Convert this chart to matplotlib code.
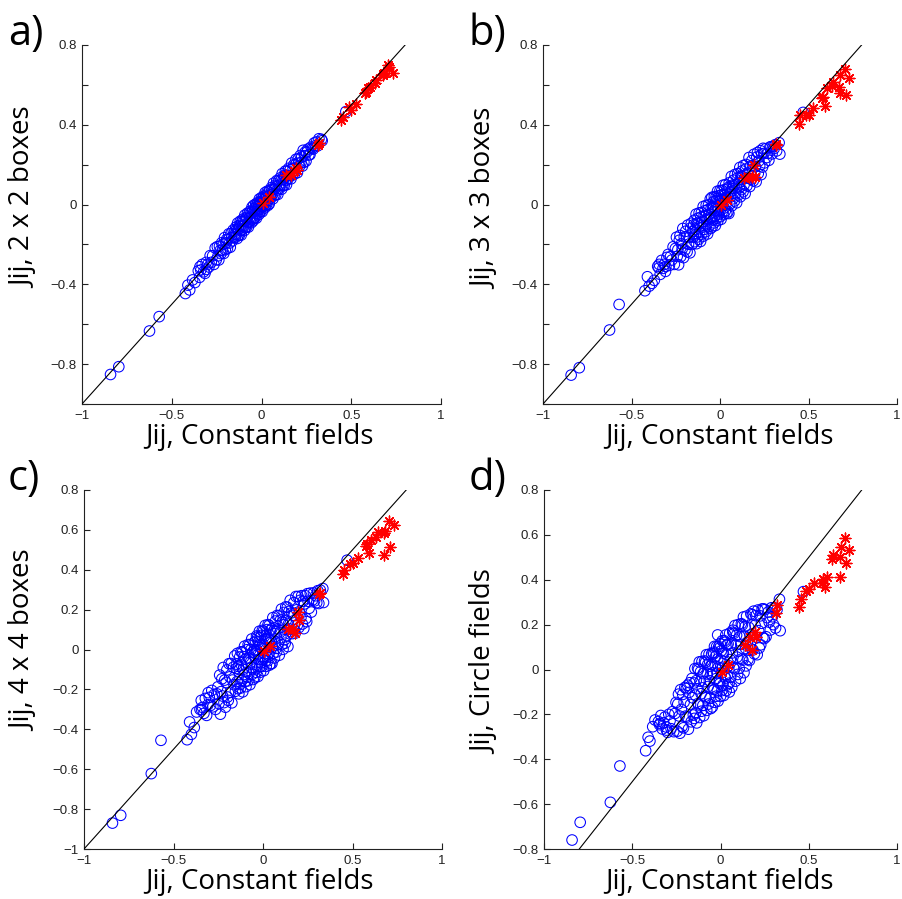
import numpy as np
import matplotlib
matplotlib.use("Agg")
import matplotlib.pyplot as plt
from matplotlib.ticker import FixedLocator, FixedFormatter

W, H = 902, 899

# ---- couplings shown as blue circles ----
# columns: J_const, J_2x2, J_3x3, J_4x4, J_circle
blue_rows = [
    # isolated strong couplings
    (-0.841, -0.852, -0.855, -0.870, -0.760),
    (-0.795, -0.813, -0.818, -0.831, -0.681),
    (-0.624, -0.634, -0.629, -0.622, -0.592),
    (-0.570, -0.562, -0.501, -0.455, -0.430),
    (-0.424, -0.446, -0.432, -0.452, -0.362),
    (-0.410, -0.404, -0.362, -0.363, -0.302),
    (-0.400, -0.428, -0.409, -0.425, -0.319),
    (-0.384, -0.378, -0.395, -0.391, -0.255),
    (-0.371, -0.391, -0.380, -0.313, -0.225),
    (-0.343, -0.312, -0.300, -0.301, -0.240),
    (-0.306, -0.325, -0.310, -0.216, -0.270),
    (0.334, 0.327, 0.310, 0.306, 0.313),
    (0.338, 0.320, 0.253, 0.236, 0.173),
    (0.470, 0.466, 0.462, 0.448, 0.347),
    (0.050, 0.040, -0.045, -0.070, -0.100),
    (-0.016, -0.010, 0.030, 0.060, 0.154),
    (0.070, 0.075, 0.080, 0.090, 0.175),
    # bulk of the couplings
    (-0.352, -0.332, -0.310, -0.300, -0.232),
    (-0.345, -0.365, -0.318, -0.255, -0.246),
    (-0.338, -0.328, -0.350, -0.290, -0.205),
    (-0.330, -0.300, -0.280, -0.320, -0.265),
    (-0.322, -0.337, -0.320, -0.245, -0.238),
    (-0.315, -0.345, -0.300, -0.330, -0.212),
    (-0.308, -0.290, -0.335, -0.277, -0.256),
    (-0.300, -0.300, -0.265, -0.240, -0.280),
    (-0.293, -0.313, -0.250, -0.280, -0.200),
    (-0.286, -0.256, -0.305, -0.205, -0.229),
    (-0.280, -0.290, -0.261, -0.287, -0.264),
    (-0.272, -0.257, -0.278, -0.225, -0.188),
    (-0.265, -0.300, -0.212, -0.300, -0.277),
    (-0.258, -0.218, -0.300, -0.222, -0.196),
    (-0.252, -0.277, -0.220, -0.187, -0.147),
    (-0.246, -0.211, -0.164, -0.271, -0.275),
    (-0.242, -0.257, -0.260, -0.128, -0.154),
    (-0.238, -0.278, -0.226, -0.324, -0.110),
    (-0.234, -0.209, -0.302, -0.211, -0.207),
    (-0.230, -0.230, -0.179, -0.147, -0.284),
    (-0.226, -0.246, -0.155, -0.233, -0.090),
    (-0.222, -0.192, -0.261, -0.090, -0.178),
    (-0.218, -0.228, -0.197, -0.266, -0.254),
    (-0.214, -0.199, -0.223, -0.153, -0.111),
    (-0.210, -0.245, -0.120, -0.289, -0.260),
    (-0.206, -0.166, -0.266, -0.165, -0.145),
    (-0.202, -0.227, -0.162, -0.102, -0.080),
    (-0.198, -0.193, -0.228, -0.238, -0.208),
    (-0.194, -0.174, -0.134, -0.255, -0.085),
    (-0.190, -0.220, -0.161, -0.071, -0.212),
    (-0.186, -0.176, -0.237, -0.137, -0.070),
    (-0.182, -0.147, -0.103, -0.214, -0.266),
    (-0.178, -0.193, -0.199, -0.070, -0.102),
    (-0.174, -0.214, -0.165, -0.267, -0.059),
    (-0.170, -0.145, -0.242, -0.153, -0.156),
    (-0.166, -0.166, -0.118, -0.089, -0.233),
    (-0.162, -0.182, -0.094, -0.176, -0.040),
    (-0.158, -0.128, -0.200, -0.032, -0.126),
    (-0.154, -0.164, -0.136, -0.209, -0.203),
    (-0.150, -0.135, -0.163, -0.095, -0.060),
    (-0.148, -0.148, -0.101, -0.073, -0.218),
    (-0.145, -0.165, -0.078, -0.161, 0.004),
    (-0.143, -0.113, -0.186, -0.019, -0.114),
    (-0.140, -0.150, -0.123, -0.196, -0.192),
    (-0.138, -0.123, -0.151, -0.084, -0.050),
    (-0.135, -0.170, -0.048, -0.222, -0.238),
    (-0.133, -0.093, -0.196, -0.100, -0.086),
    (-0.130, -0.155, -0.094, -0.037, 0.006),
    (-0.128, -0.123, -0.162, -0.175, -0.152),
    (-0.125, -0.105, -0.069, -0.193, 0.000),
    (-0.123, -0.153, -0.097, -0.011, -0.158),
    (-0.120, -0.110, -0.174, -0.078, 0.034),
    (-0.118, -0.083, -0.042, -0.156, -0.214),
    (-0.115, -0.130, -0.139, -0.014, -0.052),
    (-0.113, -0.153, -0.107, -0.212, -0.010),
    (-0.110, -0.085, -0.185, -0.099, -0.108),
    (-0.108, -0.108, -0.063, -0.037, -0.186),
    (-0.105, -0.125, -0.040, -0.125, 0.036),
    (-0.103, -0.073, -0.148, 0.017, -0.082),
    (-0.100, -0.110, -0.085, -0.160, -0.160),
    (-0.098, -0.083, -0.113, -0.048, -0.018),
    (-0.095, -0.130, -0.010, -0.186, -0.206),
    (-0.093, -0.053, -0.158, -0.064, -0.054),
    (-0.090, -0.115, -0.056, -0.001, 0.038),
    (-0.088, -0.083, -0.124, -0.139, -0.120),
    (-0.085, -0.065, -0.031, -0.157, 0.032),
    (-0.083, -0.113, -0.059, 0.025, -0.126),
    (-0.080, -0.070, -0.136, -0.042, 0.066),
    (-0.078, -0.043, -0.004, -0.120, -0.182),
    (-0.075, -0.090, -0.101, 0.023, -0.020),
    (-0.073, -0.113, -0.069, -0.176, 0.022),
    (-0.070, -0.045, -0.147, -0.063, -0.076),
    (-0.068, -0.068, -0.025, -0.001, -0.154),
    (-0.065, -0.085, -0.002, -0.089, 0.068),
    (-0.063, -0.033, -0.110, 0.053, -0.050),
    (-0.060, -0.070, -0.047, -0.124, -0.128),
    (-0.058, -0.043, -0.075, -0.012, 0.014),
    (-0.055, -0.090, 0.028, -0.150, -0.174),
    (-0.053, -0.013, -0.120, -0.028, -0.022),
    (-0.050, -0.075, -0.018, 0.035, 0.070),
    (-0.048, -0.033, -0.066, -0.003, 0.022),
    (-0.046, -0.081, 0.036, -0.141, -0.167),
    (-0.044, -0.004, -0.112, -0.020, -0.015),
    (-0.042, -0.067, -0.010, 0.042, 0.076),
    (-0.040, -0.035, -0.078, -0.096, -0.082),
    (-0.038, -0.018, 0.014, -0.114, 0.070),
    (-0.036, -0.066, -0.014, 0.068, -0.089),
    (-0.034, -0.024, -0.092, -0.001, 0.103),
    (-0.032, 0.003, 0.040, -0.079, -0.146),
    (-0.030, -0.045, -0.059, 0.063, 0.016),
    (-0.028, -0.068, -0.027, -0.135, 0.058),
    (-0.026, -0.001, -0.105, -0.023, -0.041),
    (-0.024, -0.024, 0.017, 0.038, -0.119),
    (-0.022, -0.042, 0.039, -0.050, 0.102),
    (-0.020, 0.010, -0.069, 0.092, -0.016),
    (-0.018, -0.028, -0.007, -0.086, -0.094),
    (-0.016, -0.001, -0.035, 0.026, 0.047),
    (-0.014, -0.049, 0.067, -0.113, -0.141),
    (-0.012, 0.028, -0.081, 0.009, 0.010),
    (-0.010, -0.035, 0.021, 0.071, 0.102),
    (-0.008, -0.003, -0.048, -0.067, -0.056),
    (-0.006, 0.014, 0.044, -0.085, 0.095),
    (-0.004, -0.034, 0.016, 0.096, -0.063),
    (-0.002, 0.008, -0.062, 0.028, 0.115),
    (0.000, 0.035, 0.070, -0.050, -0.120),
    (0.002, -0.013, -0.028, 0.092, 0.042),
    (0.004, -0.036, 0.004, -0.106, 0.083),
    (0.006, 0.031, -0.074, 0.005, -0.015),
    (0.008, 0.008, 0.048, 0.067, -0.094),
    (0.010, -0.010, 0.070, -0.021, 0.128),
    (0.012, 0.042, -0.039, 0.121, 0.010),
    (0.014, 0.004, 0.023, -0.057, -0.069),
    (0.016, 0.031, -0.005, 0.054, 0.073),
    (0.018, -0.017, 0.097, -0.084, -0.116),
    (0.020, 0.060, -0.051, 0.038, 0.036),
    (0.022, -0.003, 0.051, 0.100, 0.128),
    (0.024, 0.029, -0.017, -0.038, -0.031),
    (0.026, 0.046, 0.075, -0.057, 0.121),
    (0.028, -0.002, 0.047, 0.125, -0.038),
    (0.030, 0.040, -0.032, 0.057, 0.154),
    (0.032, 0.067, 0.100, -0.021, -0.094),
    (0.034, 0.019, 0.002, 0.121, 0.067),
    (0.036, -0.004, 0.034, -0.078, 0.109),
    (0.038, 0.063, -0.044, 0.034, 0.010),
    (0.040, 0.040, 0.078, 0.096, -0.068),
    (0.043, 0.003, 0.041, -0.071, 0.114),
    (0.046, 0.071, -0.036, 0.041, 0.017),
    (0.049, 0.049, 0.087, 0.104, -0.061),
    (0.052, 0.032, 0.109, 0.017, 0.162),
    (0.055, 0.085, 0.002, 0.160, 0.044),
    (0.058, 0.048, 0.065, -0.018, -0.034),
    (0.061, 0.076, 0.038, 0.095, 0.109),
    (0.064, 0.029, 0.141, -0.042, -0.079),
    (0.067, 0.107, -0.006, 0.080, 0.074),
    (0.070, 0.045, 0.097, 0.143, 0.166),
    (0.073, 0.078, 0.029, 0.006, 0.008),
    (0.076, 0.096, 0.122, -0.012, 0.161),
    (0.079, 0.049, 0.095, 0.171, 0.003),
    (0.082, 0.092, 0.018, 0.104, 0.196),
    (0.085, 0.120, 0.151, 0.027, -0.052),
    (0.088, 0.073, 0.054, 0.169, 0.110),
    (0.091, 0.051, 0.086, -0.028, 0.153),
    (0.094, 0.119, 0.009, 0.085, 0.055),
    (0.097, 0.097, 0.132, 0.147, -0.022),
    (0.100, 0.080, 0.155, 0.060, 0.200),
    (0.103, 0.133, 0.048, 0.203, 0.082),
    (0.106, 0.096, 0.111, 0.025, 0.005),
    (0.109, 0.124, 0.084, 0.138, 0.147),
    (0.112, 0.077, 0.186, 0.001, -0.040),
    (0.115, 0.155, 0.039, 0.124, 0.112),
    (0.118, 0.093, 0.142, 0.186, 0.204),
    (0.121, 0.126, 0.075, 0.049, 0.047),
    (0.124, 0.144, 0.168, 0.032, 0.199),
    (0.127, 0.097, 0.141, 0.214, 0.042),
    (0.130, 0.140, 0.064, 0.147, 0.234),
    (0.133, 0.168, 0.196, 0.070, -0.014),
    (0.136, 0.121, 0.099, 0.212, 0.149),
    (0.139, 0.099, 0.132, 0.015, 0.191),
    (0.142, 0.167, 0.055, 0.128, 0.094),
    (0.145, 0.145, 0.178, 0.191, 0.016),
    (0.148, 0.128, 0.201, 0.103, 0.238),
    (0.152, 0.182, 0.094, 0.247, 0.122),
    (0.156, 0.146, 0.158, 0.090, 0.045),
    (0.160, 0.175, 0.132, 0.184, 0.188),
    (0.164, 0.129, 0.236, 0.080, 0.040),
    (0.168, 0.208, 0.090, 0.171, 0.154),
    (0.172, 0.147, 0.193, 0.235, 0.248),
    (0.176, 0.181, 0.127, 0.098, 0.091),
    (0.180, 0.200, 0.221, 0.082, 0.244),
    (0.184, 0.154, 0.195, 0.266, 0.087),
    (0.188, 0.198, 0.119, 0.199, 0.260),
    (0.192, 0.227, 0.252, 0.123, 0.070),
    (0.196, 0.181, 0.156, 0.266, 0.197),
    (0.200, 0.160, 0.190, 0.110, 0.240),
    (0.204, 0.229, 0.114, 0.184, 0.143),
    (0.208, 0.208, 0.238, 0.247, 0.066),
    (0.212, 0.192, 0.261, 0.161, 0.265),
    (0.216, 0.246, 0.155, 0.270, 0.173),
    (0.220, 0.210, 0.219, 0.128, 0.096),
    (0.224, 0.239, 0.193, 0.242, 0.239),
    (0.228, 0.193, 0.270, 0.105, 0.110),
    (0.232, 0.272, 0.150, 0.229, 0.206),
    (0.236, 0.211, 0.254, 0.270, 0.270),
    (0.240, 0.245, 0.188, 0.156, 0.142),
    (0.244, 0.264, 0.282, 0.140, 0.270),
    (0.248, 0.218, 0.256, 0.280, 0.138),
    (0.252, 0.262, 0.209, 0.242, 0.267),
    (0.258, 0.278, 0.280, 0.207, 0.146),
    (0.264, 0.249, 0.236, 0.283, 0.231),
    (0.270, 0.250, 0.257, 0.188, 0.256),
    (0.276, 0.288, 0.222, 0.248, 0.211),
    (0.282, 0.282, 0.288, 0.284, 0.176),
    (0.288, 0.278, 0.290, 0.244, 0.275),
    (0.294, 0.309, 0.254, 0.270, 0.235),
    (0.300, 0.295, 0.290, 0.235, 0.200),
    (0.306, 0.314, 0.281, 0.295, 0.275),
    (0.312, 0.294, 0.300, 0.231, 0.185),
    (0.320, 0.330, 0.269, 0.298, 0.266),
]

# ---- couplings shown as red asterisks ----
red_rows = [
    (0.705, 0.700, 0.678, 0.644, 0.585),
    (0.730, 0.661, 0.633, 0.624, 0.533),
    (0.680, 0.660, 0.649, 0.595, 0.548),
    (0.640, 0.624, 0.616, 0.590, 0.511),
    (0.630, 0.610, 0.594, 0.565, 0.491),
    (0.675, 0.650, 0.591, 0.582, 0.500),
    (0.712, 0.690, 0.549, 0.515, 0.476),
    (0.678, 0.655, 0.557, 0.473, 0.414),
    (0.603, 0.590, 0.582, 0.548, 0.414),
    (0.580, 0.566, 0.541, 0.528, 0.402),
    (0.575, 0.557, 0.532, 0.518, 0.384),
    (0.594, 0.585, 0.494, 0.482, 0.369),
    (0.528, 0.504, 0.482, 0.457, 0.384),
    (0.500, 0.474, 0.449, 0.435, 0.357),
    (0.487, 0.490, 0.449, 0.428, 0.351),
    (0.454, 0.440, 0.449, 0.398, 0.316),
    (0.445, 0.424, 0.404, 0.381, 0.280),
    (0.318, 0.307, 0.303, 0.284, 0.287),
    (0.314, 0.300, 0.298, 0.280, 0.253),
    (0.193, 0.185, 0.198, 0.189, 0.169),
    (0.200, 0.173, 0.140, 0.147, 0.146),
    (0.165, 0.148, 0.140, 0.105, 0.146),
    (0.137, 0.150, 0.131, 0.105, 0.109),
    (0.180, 0.170, 0.140, 0.084, 0.087),
    (0.040, 0.039, 0.023, 0.017, 0.020),
    (0.006, 0.006, -0.002, -0.007, -0.013),
]

blue = np.array(blue_rows)
red = np.array(red_rows)

panel_letters = ["a)", "b)", "c)", "d)"]
y_labels = ["Jij, 2 x 2 boxes", "Jij, 3 x 3 boxes", "Jij, 4 x 4 boxes", "Jij, Circle fields"]
x_label = "Jij, Constant fields"

x_ticks = [-1, -0.5, 0, 0.5, 1]
x_ticklabels = ["\u22121", "\u22120.5", "0", "0.5", "1"]

y_ticks_ab = [-1, -0.8, -0.6, -0.4, -0.2, 0, 0.2, 0.4, 0.6, 0.8]
y_ticklabels_ab = ["", "\u22120.8", "", "\u22120.4", "", "0", "", "0.4", "", "0.8"]
y_ticks_c = [-1, -0.8, -0.6, -0.4, -0.2, 0, 0.2, 0.4, 0.6, 0.8]
y_ticklabels_c = ["\u22121", "\u22120.8", "\u22120.6", "\u22120.4", "\u22120.2", "0", "0.2", "0.4", "0.6", "0.8"]
y_ticks_d = [-0.8, -0.6, -0.4, -0.2, 0, 0.2, 0.4, 0.6, 0.8]
y_ticklabels_d = ["\u22120.8", "\u22120.6", "\u22120.4", "\u22120.2", "0", "0.2", "0.4", "0.6", "0.8"]

y_limits = [(-1, 0.8), (-1, 0.8), (-1, 0.8), (-0.8, 0.8)]
y_tick_sets = [(y_ticks_ab, y_ticklabels_ab), (y_ticks_ab, y_ticklabels_ab),
               (y_ticks_c, y_ticklabels_c), (y_ticks_d, y_ticklabels_d)]

# axes boxes in pixels: left, top, right, bottom
boxes = [(82, 45, 441, 404), (543, 45, 897, 404),
         (84, 490, 442, 849), (544, 490, 897, 849)]
letter_pos = [(8, 45), (469, 45), (8, 490), (469, 490)]
ylabel_pos = [(24, 198), (485, 199), (24, 641), (485, 662)]
xlabel_base = [(259, 444), (719, 444), (259, 889), (719, 889)]

tick_font = "Liberation Sans"
label_font = "Open Sans"

fig = plt.figure(figsize=(W / 100, H / 100), dpi=100)
fig.patch.set_facecolor("white")


def fx(px):
    return px / W


def fy(py):
    return 1 - py / H


for i in range(4):
    l, t, r, b = boxes[i]
    ax = fig.add_axes([fx(l), fy(b), (r - l) / W, (b - t) / H])
    ax.set_xlim(-1, 1)
    ax.set_ylim(*y_limits[i])
    ax.scatter(blue[:, 0], blue[:, i + 1], s=58, facecolors="none",
               edgecolors=(0, 0, 1), linewidths=0.75, zorder=2, clip_on=False)
    ax.scatter(red[:, 0], red[:, i + 1], s=60, marker=(8, 2, 0),
               color=(1, 0, 0), linewidths=1.0, zorder=3, clip_on=False)
    ax.plot([-1, 0.8], [-1, 0.8], color="black", linewidth=0.8, zorder=4)

    for side in ("top", "right"):
        ax.spines[side].set_visible(False)
    for side in ("left", "bottom"):
        ax.spines[side].set_linewidth(0.8)
        ax.spines[side].set_color("#222222")

    ax.xaxis.set_major_locator(FixedLocator(x_ticks))
    ax.xaxis.set_major_formatter(FixedFormatter(x_ticklabels))
    yt, ytl = y_tick_sets[i]
    ax.yaxis.set_major_locator(FixedLocator(yt))
    ax.yaxis.set_major_formatter(FixedFormatter(ytl))
    ax.tick_params(direction="in", length=4.5, width=0.8, color="#222222",
                   labelsize=9.5, labelcolor="#222222", pad=4)
    for lab in ax.get_xticklabels() + ax.get_yticklabels():
        lab.set_fontfamily(tick_font)

    lx, ly = letter_pos[i]
    fig.text(fx(lx), fy(ly), panel_letters[i], fontsize=30, family=label_font,
             ha="left", va="baseline", color="black")
    yx, yy = ylabel_pos[i]
    fig.text(fx(yx), fy(yy), y_labels[i], fontsize=20, family=label_font,
             rotation=90, ha="center", va="center", color="black")
    xx, xy = xlabel_base[i]
    fig.text(fx(xx), fy(xy), x_label, fontsize=20, family=label_font,
             ha="center", va="baseline", color="black")

fig.savefig("out.png", dpi=100, facecolor="white")
